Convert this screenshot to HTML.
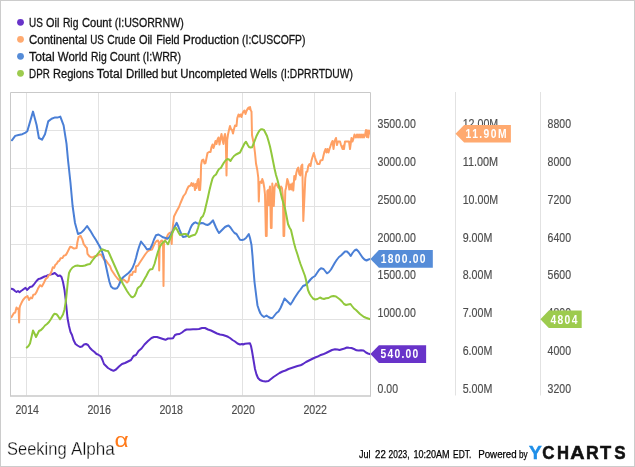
<!DOCTYPE html>
<html lang="en"><head><meta charset="utf-8"><title>YCharts</title>
<style>
html,body{margin:0;padding:0;background:#fff;}
body{width:635px;height:467px;overflow:hidden;}
svg{display:block;font-family:"Liberation Sans", sans-serif;}
.ax{font-size:12px;fill:#4c4c4c;stroke:#4c4c4c;stroke-width:0.15;}
.lg{font-size:12px;fill:#151515;stroke:#151515;stroke-width:0.3;}
.fl{font-size:12px;font-weight:bold;fill:#fff;}
.ln{fill:none;stroke-width:2;stroke-linejoin:round;stroke-linecap:round;}
</style></head><body>
<svg width="635" height="467" viewBox="0 0 635 467">
<rect x="0" y="0" width="635" height="467" fill="#fff"/>
<rect x="0.5" y="0.5" width="634" height="466" fill="none" stroke="#cccccc" stroke-width="1"/>

<circle cx="20.5" cy="22.3" r="3.4" fill="#6833c9"/>
<text class="lg" y="26.5"><tspan x="29.1" textLength="13.8" lengthAdjust="spacingAndGlyphs">US</tspan> <tspan x="46.1" textLength="13.3" lengthAdjust="spacingAndGlyphs">Oil</tspan> <tspan x="62.9" textLength="15.5" lengthAdjust="spacingAndGlyphs">Rig</tspan> <tspan x="81.9" textLength="29.8" lengthAdjust="spacingAndGlyphs">Count</tspan> <tspan x="114.8" textLength="68.9" lengthAdjust="spacingAndGlyphs">(I:USORRNW)</tspan></text>
<circle cx="20.5" cy="39.3" r="3.4" fill="#ffaa70"/>
<text class="lg" y="43.5"><tspan x="29.1" textLength="58.0" lengthAdjust="spacingAndGlyphs">Continental</tspan> <tspan x="90.2" textLength="13.7" lengthAdjust="spacingAndGlyphs">US</tspan> <tspan x="107.2" textLength="28.2" lengthAdjust="spacingAndGlyphs">Crude</tspan> <tspan x="138.9" textLength="13.4" lengthAdjust="spacingAndGlyphs">Oil</tspan> <tspan x="156.2" textLength="23.4" lengthAdjust="spacingAndGlyphs">Field</tspan> <tspan x="183.1" textLength="55.8" lengthAdjust="spacingAndGlyphs">Production</tspan> <tspan x="242.1" textLength="63.3" lengthAdjust="spacingAndGlyphs">(I:CUSCOFP)</tspan></text>
<circle cx="20.5" cy="56.3" r="3.4" fill="#558cd8"/>
<text class="lg" y="60.5"><tspan x="29.1" textLength="25.6" lengthAdjust="spacingAndGlyphs">Total</tspan> <tspan x="57.8" textLength="29.8" lengthAdjust="spacingAndGlyphs">World</tspan> <tspan x="91.1" textLength="15.6" lengthAdjust="spacingAndGlyphs">Rig</tspan> <tspan x="109.8" textLength="29.8" lengthAdjust="spacingAndGlyphs">Count</tspan> <tspan x="142.7" textLength="38.4" lengthAdjust="spacingAndGlyphs">(I:WRR)</tspan></text>
<circle cx="20.5" cy="73.3" r="3.4" fill="#9dcb4e"/>
<text class="lg" y="77.5"><tspan x="29.1" textLength="20.7" lengthAdjust="spacingAndGlyphs">DPR</tspan> <tspan x="53.0" textLength="40.7" lengthAdjust="spacingAndGlyphs">Regions</tspan> <tspan x="96.8" textLength="25.6" lengthAdjust="spacingAndGlyphs">Total</tspan> <tspan x="125.9" textLength="32.6" lengthAdjust="spacingAndGlyphs">Drilled</tspan> <tspan x="161.1" textLength="16.1" lengthAdjust="spacingAndGlyphs">but</tspan> <tspan x="180.2" textLength="66.9" lengthAdjust="spacingAndGlyphs">Uncompleted</tspan> <tspan x="250.0" textLength="27.2" lengthAdjust="spacingAndGlyphs">Wells</tspan> <tspan x="280.7" textLength="72.2" lengthAdjust="spacingAndGlyphs">(I:DPRRTDUW)</tspan></text>
<path d="M10.5,357.5 H370.5 M10.5,319.5 H370.5 M10.5,281.5 H370.5 M10.5,244.5 H370.5 M10.5,206.5 H370.5 M10.5,168.5 H370.5 M10.5,130.5 H370.5 M26.5,92.5 V395.5 M98.5,92.5 V395.5 M170.5,92.5 V395.5 M242.5,92.5 V395.5 M314.5,92.5 V395.5" stroke="#e2e2e2" stroke-width="1" fill="none"/>
<path d="M455.5,92.0 V395.5 M540.5,92.0 V395.5" stroke="#e2e2e2" stroke-width="1" fill="none"/>
<clipPath id="cp"><rect x="10.5" y="92.5" width="360.0" height="303.0"/></clipPath>
<g clip-path="url(#cp)">
<path class="ln" stroke="#5a2cc8" d="M11.5,288.7 L13.5,289.5 L15.0,291.0 L16.5,292.0 L18.0,291.0 L19.5,292.2 L21.0,291.0 L22.5,290.0 L24.5,288.5 L25.5,287.8 L27.0,290.0 L28.5,288.5 L30.0,287.0 L32.0,286.5 L33.5,285.0 L35.0,283.0 L36.5,281.0 L38.5,279.0 L40.5,278.5 L42.5,277.5 L44.5,276.5 L46.5,276.0 L48.5,275.0 L50.5,274.5 L52.5,274.0 L54.8,273.0 L56.5,274.5 L58.0,276.0 L60.0,275.5 L61.5,277.0 L63.0,282.0 L64.5,290.0 L65.7,300.0 L66.7,310.0 L67.5,318.0 L69.0,326.0 L70.5,332.0 L72.0,335.0 L73.5,340.0 L75.5,344.0 L77.5,345.5 L80.0,347.0 L82.0,346.5 L84.0,344.5 L86.0,344.0 L88.0,345.0 L90.0,348.0 L92.0,350.0 L94.5,352.0 L96.5,354.0 L98.0,354.5 L99.5,355.5 L101.0,356.5 L102.5,360.0 L104.0,364.0 L106.0,366.0 L108.0,368.0 L110.5,369.5 L113.5,370.8 L116.0,369.5 L119.0,366.5 L122.0,364.0 L125.0,363.0 L128.0,361.5 L131.0,360.0 L133.5,356.0 L136.0,355.0 L138.5,351.0 L141.5,348.5 L144.5,344.5 L148.0,341.0 L151.5,338.0 L154.0,337.0 L157.0,337.0 L160.0,338.0 L163.0,339.0 L165.5,339.8 L168.0,338.5 L170.5,338.5 L173.0,338.3 L175.0,335.0 L177.0,334.3 L179.5,334.0 L182.0,332.5 L184.5,330.5 L186.5,329.5 L190.0,329.5 L193.0,329.3 L196.0,329.3 L199.0,329.0 L202.0,328.0 L205.0,328.0 L208.0,329.5 L211.0,330.5 L214.0,332.0 L217.0,333.5 L220.0,334.5 L223.0,335.0 L226.0,336.0 L228.0,336.8 L230.0,338.0 L232.5,340.0 L235.0,341.5 L237.5,343.5 L240.0,344.5 L242.0,344.0 L243.0,344.5 L245.0,343.7 L247.5,343.5 L250.0,343.3 L251.0,346.0 L252.0,351.0 L253.0,357.0 L254.0,363.0 L255.0,369.0 L256.5,374.5 L258.0,378.0 L260.0,380.0 L262.5,381.0 L265.5,381.5 L268.5,381.0 L271.0,379.0 L273.5,377.0 L276.5,375.0 L279.5,373.0 L282.5,371.5 L285.5,370.5 L288.5,369.0 L291.5,368.0 L294.5,367.0 L297.5,366.0 L300.5,365.3 L303.0,364.0 L306.0,362.0 L309.0,360.5 L312.0,359.0 L314.0,358.0 L317.0,356.8 L320.0,355.3 L323.0,354.3 L326.0,353.0 L329.0,351.5 L332.0,350.0 L335.0,349.3 L337.5,349.5 L339.5,350.0 L342.0,349.2 L344.5,348.5 L347.0,347.5 L349.0,347.8 L351.5,348.0 L354.0,349.0 L356.5,350.3 L358.5,350.5 L361.0,350.3 L363.5,350.5 L366.0,352.5 L368.0,353.5 L370.4,354.2"/>
<path class="ln" stroke="#ffa064" d="M11.4,317.3 L13.8,313.2 L15.2,312.6 L16.5,307.5 L17.6,308.9 L18.6,308.5 L19.1,322.5 L19.6,308.0 L20.1,305.8 L21.5,302.8 L23.0,300.0 L25.0,297.7 L27.5,296.0 L29.0,300.0 L30.6,297.6 L32.0,298.3 L33.3,294.8 L35.0,294.4 L36.4,292.3 L38.0,288.6 L40.0,285.2 L41.9,286.5 L43.9,282.7 L45.8,278.8 L47.7,277.5 L48.4,275.6 L50.3,274.3 L51.6,271.1 L52.8,267.3 L54.1,267.9 L55.4,264.7 L56.7,263.7 L58.0,261.5 L59.3,260.8 L60.6,258.3 L62.5,258.0 L63.8,255.7 L65.7,255.1 L67.0,253.1 L68.9,249.3 L70.2,246.7 L72.0,247.3 L74.0,248.6 L76.6,248.0 L77.3,242.8 L78.5,237.1 L80.5,235.8 L82.4,239.6 L83.7,244.1 L85.6,246.7 L86.9,248.0 L87.5,253.8 L89.5,256.3 L92.0,257.6 L94.6,256.3 L97.2,255.7 L99.0,254.4 L101.0,254.5 L102.5,257.0 L104.0,259.5 L106.0,260.5 L108.0,263.5 L110.0,266.0 L111.5,270.0 L113.5,273.0 L115.5,276.0 L117.5,278.5 L119.5,280.5 L121.5,280.0 L123.5,279.5 L125.5,281.0 L127.0,282.5 L128.5,281.0 L129.5,276.0 L130.5,274.5 L132.0,275.0 L133.0,272.0 L134.5,271.5 L135.5,272.0 L136.0,266.5 L138.0,265.5 L139.5,263.0 L141.5,260.0 L143.5,257.0 L145.5,254.0 L147.5,251.5 L150.0,250.0 L152.0,249.5 L153.5,246.0 L155.0,243.0 L156.5,241.0 L158.0,240.5 L158.8,243.0 L159.2,270.5 L159.7,243.0 L161.0,241.0 L162.0,240.5 L163.0,243.0 L163.5,286.0 L164.0,243.0 L165.0,240.5 L166.5,238.0 L168.0,234.5 L169.5,233.0 L171.0,232.5 L171.7,244.0 L172.3,232.0 L173.0,225.0 L174.0,216.5 L175.5,213.5 L177.0,210.5 L179.0,207.0 L180.5,203.0 L182.0,199.5 L183.5,196.0 L185.5,193.5 L187.0,189.5 L188.5,186.5 L190.5,185.5 L191.5,183.0 L192.5,186.0 L193.5,183.5 L194.5,187.0 L195.0,190.0 L195.8,184.0 L196.5,188.0 L197.5,181.0 L198.4,179.0 L199.1,190.0 L200.1,190.0 L200.7,180.0 L201.1,165.0 L202.0,160.3 L203.3,159.5 L204.5,163.5 L205.5,163.0 L206.5,158.0 L207.5,153.0 L209.0,152.0 L210.5,152.0 L211.5,147.0 L212.5,144.5 L213.5,148.0 L214.5,145.0 L215.5,141.0 L216.5,144.0 L217.5,139.5 L218.5,137.5 L219.5,144.5 L220.5,138.5 L221.5,134.0 L222.5,140.0 L223.5,144.0 L224.2,137.0 L225.0,134.0 L225.8,140.0 L226.5,175.5 L227.2,140.0 L228.0,134.5 L229.0,130.0 L230.0,126.0 L231.0,129.0 L232.0,130.0 L233.0,133.5 L234.0,129.0 L235.0,125.5 L236.5,126.0 L237.3,118.0 L238.5,114.5 L239.5,116.5 L240.5,114.5 L241.5,117.0 L242.5,113.5 L243.5,111.5 L244.5,110.5 L245.5,114.0 L246.5,111.0 L247.5,109.0 L248.5,107.5 L249.3,109.0 L250.0,107.0 L250.8,110.5 L251.5,111.5 L252.0,135.0 L253.0,140.0 L254.0,145.0 L255.0,153.0 L256.0,163.5 L257.3,170.0 L258.3,178.0 L258.8,201.5 L259.5,183.0 L260.5,181.5 L261.5,183.0 L262.3,179.0 L263.3,182.0 L264.3,188.0 L265.0,194.5 L265.9,236.0 L266.7,236.0 L267.3,191.0 L268.0,190.0 L268.7,205.0 L269.3,191.0 L270.0,186.5 L270.9,228.0 L271.6,228.0 L272.3,183.5 L273.0,192.0 L273.8,206.0 L274.6,187.0 L276.0,183.5 L277.0,185.0 L278.0,187.0 L279.0,188.0 L280.0,189.0 L281.0,186.5 L282.0,188.0 L283.0,198.0 L283.5,236.0 L284.2,236.0 L284.8,210.0 L285.3,190.5 L286.0,188.0 L287.3,179.0 L288.3,182.0 L289.3,189.5 L290.3,184.5 L291.3,189.5 L292.3,183.5 L293.3,190.5 L294.3,176.0 L295.3,179.5 L296.3,173.0 L297.3,169.0 L298.3,167.5 L299.3,174.0 L300.3,175.5 L301.3,166.0 L302.3,164.5 L303.3,221.0 L304.3,200.0 L305.3,178.0 L306.3,172.0 L307.3,171.5 L308.3,166.0 L309.5,164.0 L310.5,166.0 L311.5,160.5 L312.5,157.0 L313.8,153.0 L315.0,157.5 L316.0,160.5 L317.5,164.0 L319.5,164.0 L320.5,160.5 L322.5,160.0 L323.5,155.5 L324.5,151.5 L325.5,149.0 L326.5,152.5 L327.5,149.0 L328.5,152.5 L329.5,149.0 L330.5,146.0 L331.5,143.0 L332.5,141.0 L333.5,149.0 L334.5,141.5 L336.0,138.0 L337.0,145.0 L338.0,141.5 L340.0,141.5 L341.0,145.0 L342.5,149.0 L343.5,145.5 L344.0,149.0 L345.0,141.5 L347.0,141.5 L349.0,141.5 L350.0,149.0 L351.0,141.5 L351.5,138.0 L352.5,141.5 L353.5,138.5 L354.5,134.5 L356.0,137.5 L357.0,134.5 L358.0,137.5 L359.0,134.5 L360.0,137.5 L361.0,134.5 L362.0,137.5 L363.0,134.5 L364.0,137.5 L365.0,135.0 L366.0,130.0 L366.8,137.0 L367.5,130.5 L368.3,137.5 L369.0,130.5 L369.8,133.5"/>
<path class="ln" stroke="#4a7fd6" d="M11.9,140.3 L15.2,135.9 L18.5,135.0 L22.3,134.2 L25.6,132.6 L27.3,131.2 L33.0,111.6 L36.6,125.0 L38.9,138.0 L42.0,139.7 L45.0,134.3 L48.2,121.4 L51.6,118.7 L54.5,117.6 L57.4,117.6 L60.3,116.6 L63.6,125.3 L66.5,143.6 L68.0,160.0 L69.0,169.0 L70.5,183.0 L72.6,206.0 L75.0,223.0 L78.0,234.0 L81.3,232.6 L84.0,230.0 L87.1,226.0 L90.2,230.6 L93.4,236.0 L96.0,240.0 L98.0,243.5 L100.0,247.0 L102.0,251.5 L103.5,256.0 L105.0,261.5 L106.5,268.5 L108.0,275.5 L109.5,282.0 L111.0,286.5 L113.0,288.2 L115.0,288.7 L117.0,288.3 L118.5,286.0 L120.0,282.5 L121.5,279.0 L123.5,277.0 L126.0,275.0 L128.5,273.0 L130.5,271.0 L132.5,268.0 L134.5,263.0 L136.0,258.0 L137.5,252.0 L139.0,247.0 L141.0,241.5 L143.0,244.0 L145.0,246.5 L147.0,249.5 L149.0,249.0 L150.0,249.0 L152.0,245.0 L154.0,239.5 L156.0,235.3 L158.5,234.5 L161.0,236.0 L163.0,237.3 L165.5,238.0 L167.5,238.8 L169.5,237.0 L171.5,233.5 L173.5,229.5 L175.0,226.0 L176.7,222.8 L178.5,227.0 L180.0,231.0 L181.5,234.5 L183.0,237.0 L185.5,236.5 L187.5,235.5 L189.0,232.0 L190.5,228.0 L192.0,225.0 L194.0,223.0 L195.5,222.3 L197.5,223.5 L199.5,223.8 L201.5,223.0 L203.5,223.3 L205.5,224.5 L207.5,225.0 L209.5,224.0 L211.5,222.0 L213.0,220.3 L214.5,224.0 L216.0,227.5 L217.5,230.5 L219.0,233.0 L221.0,231.0 L223.0,229.0 L225.0,227.0 L227.0,226.0 L228.5,225.5 L230.5,227.5 L232.5,230.5 L234.5,233.0 L236.5,234.0 L238.0,236.5 L240.0,239.8 L242.0,240.0 L244.0,239.5 L246.0,238.0 L248.8,234.0 L250.0,238.0 L251.5,245.0 L252.5,256.0 L253.5,270.0 L254.5,282.0 L255.5,290.0 L256.5,298.0 L257.5,305.5 L259.0,310.0 L260.5,313.5 L262.0,315.5 L264.0,317.0 L266.5,315.5 L268.5,317.0 L270.5,318.0 L272.5,318.0 L274.5,315.5 L276.5,313.0 L278.5,311.5 L280.5,308.0 L282.5,303.5 L284.5,298.5 L286.5,300.5 L288.5,302.5 L290.5,304.5 L292.5,301.5 L294.5,298.0 L296.5,295.0 L298.5,292.0 L300.5,289.5 L303.0,286.0 L305.5,285.0 L308.0,282.5 L310.5,279.5 L312.5,277.5 L315.0,276.0 L317.0,273.0 L319.0,270.0 L321.0,268.3 L323.5,269.0 L325.5,271.5 L327.0,273.3 L329.0,272.0 L331.0,269.5 L333.0,266.0 L335.0,262.5 L337.0,259.5 L339.0,257.0 L341.0,255.5 L343.0,253.5 L345.0,251.5 L347.0,251.5 L349.0,253.5 L350.7,256.0 L352.5,253.0 L354.5,250.5 L356.5,249.5 L358.5,251.5 L360.5,254.5 L362.5,257.5 L364.5,259.5 L366.5,260.5 L368.5,259.5 L370.4,258.9"/>
<path class="ln" stroke="#91c83c" d="M26.8,347.6 L28.5,346.0 L30.0,343.5 L31.5,337.0 L33.0,330.5 L34.5,333.5 L36.0,337.0 L37.5,334.0 L39.0,331.0 L41.0,330.0 L43.0,328.0 L45.0,325.5 L47.0,324.0 L49.0,322.0 L51.0,319.0 L53.0,315.5 L54.5,313.7 L56.5,314.2 L58.0,316.0 L60.0,319.3 L61.5,317.0 L63.0,314.5 L64.5,309.5 L66.0,300.0 L67.0,290.0 L68.0,280.0 L69.0,273.0 L70.5,270.0 L72.5,267.5 L75.0,266.0 L77.5,265.5 L80.0,266.0 L82.5,266.0 L85.0,265.5 L87.5,264.5 L90.0,264.0 L92.0,261.0 L94.0,258.5 L96.0,256.0 L98.0,253.5 L100.0,251.0 L102.0,249.3 L104.0,250.0 L106.0,250.8 L108.0,251.0 L109.5,254.0 L111.0,257.5 L113.0,262.0 L115.0,266.5 L117.0,271.0 L119.0,275.5 L121.0,280.0 L123.0,284.0 L125.0,287.5 L127.0,291.0 L129.0,294.0 L131.0,296.5 L132.5,297.3 L134.5,296.0 L136.0,293.0 L137.5,288.5 L139.0,287.0 L140.5,286.0 L142.5,282.5 L144.5,279.0 L146.5,275.5 L148.5,271.5 L150.0,269.5 L152.5,269.0 L154.5,264.0 L156.0,258.5 L158.0,251.5 L160.0,246.5 L162.0,243.5 L164.0,241.5 L165.5,241.0 L167.0,243.0 L168.0,244.3 L169.5,240.5 L171.0,236.5 L172.5,232.5 L174.0,229.5 L175.7,227.5 L177.0,229.5 L178.5,232.5 L180.0,235.0 L182.0,234.5 L184.0,234.0 L186.0,234.0 L187.5,235.5 L189.0,237.0 L191.0,236.0 L193.0,235.3 L195.0,234.7 L196.5,232.5 L198.0,228.0 L199.5,222.5 L201.0,218.0 L203.0,216.0 L204.5,212.0 L206.0,205.5 L206.5,203.5 L208.0,197.0 L209.5,190.0 L211.0,184.0 L212.5,178.5 L214.0,176.0 L216.0,174.5 L217.5,171.5 L219.0,169.0 L221.0,167.8 L222.5,165.0 L224.0,162.5 L225.5,160.5 L227.5,159.0 L229.0,159.5 L230.5,161.0 L232.0,158.5 L234.0,156.0 L236.0,154.5 L238.0,153.5 L240.0,152.5 L241.5,149.5 L243.0,146.5 L244.5,143.5 L246.0,141.7 L247.5,144.5 L249.0,147.0 L250.5,147.5 L252.0,147.3 L253.5,144.0 L255.0,140.0 L256.5,136.0 L258.0,133.0 L259.5,130.5 L261.0,129.3 L262.5,129.3 L264.0,130.0 L265.5,133.0 L267.0,136.0 L268.5,141.0 L270.0,146.5 L271.5,153.5 L273.0,161.0 L274.5,168.5 L276.0,175.0 L277.5,180.0 L279.0,186.0 L280.5,192.0 L282.0,198.5 L283.5,203.5 L285.0,208.5 L286.5,216.0 L288.0,224.0 L289.5,227.5 L291.0,230.0 L292.5,236.5 L294.0,243.0 L295.5,248.5 L296.0,250.0 L297.5,254.5 L299.0,259.5 L300.5,264.0 L302.0,268.0 L303.5,272.0 L305.0,276.0 L306.0,280.0 L307.0,285.0 L308.0,290.0 L309.5,293.5 L311.0,296.0 L313.0,298.5 L315.0,299.5 L317.5,299.0 L320.0,297.5 L322.0,298.5 L324.0,299.0 L326.0,298.3 L328.5,298.0 L331.0,296.5 L333.5,296.0 L336.0,296.5 L338.0,298.0 L340.0,299.5 L342.0,301.5 L344.0,304.0 L346.0,305.0 L348.0,304.5 L350.5,304.0 L352.0,306.0 L354.0,308.5 L356.0,310.0 L358.0,312.0 L360.0,314.0 L362.0,315.5 L364.0,317.0 L366.0,317.8 L368.0,318.5 L370.4,319.3"/>
</g>
<path d="M10.5,396.1 V92.5 H370.5 V396.1" fill="none" stroke="#c9c9c9" stroke-width="1"/>
<path d="M10.0,395.9 H371.0" stroke="#c9c9c9" stroke-width="1.5" fill="none"/>
<text class="ax" x="377.6" y="392.9" textLength="20.4" lengthAdjust="spacingAndGlyphs">0.00</text>
<text class="ax" x="462.7" y="392.9" textLength="29.6" lengthAdjust="spacingAndGlyphs">5.00M</text>
<text class="ax" x="547.6" y="392.9" textLength="23.4" lengthAdjust="spacingAndGlyphs">3200</text>
<text class="ax" x="462.7" y="355.0" textLength="29.6" lengthAdjust="spacingAndGlyphs">6.00M</text>
<text class="ax" x="547.6" y="355.0" textLength="23.4" lengthAdjust="spacingAndGlyphs">4000</text>
<text class="ax" x="377.6" y="317.2" textLength="38.2" lengthAdjust="spacingAndGlyphs">1000.00</text>
<text class="ax" x="462.7" y="317.2" textLength="29.6" lengthAdjust="spacingAndGlyphs">7.00M</text>
<text class="ax" x="547.6" y="317.2" textLength="23.4" lengthAdjust="spacingAndGlyphs">4800</text>
<text class="ax" x="377.6" y="279.3" textLength="38.2" lengthAdjust="spacingAndGlyphs">1500.00</text>
<text class="ax" x="462.7" y="279.3" textLength="29.6" lengthAdjust="spacingAndGlyphs">8.00M</text>
<text class="ax" x="547.6" y="279.3" textLength="23.4" lengthAdjust="spacingAndGlyphs">5600</text>
<text class="ax" x="377.6" y="241.5" textLength="38.2" lengthAdjust="spacingAndGlyphs">2000.00</text>
<text class="ax" x="462.7" y="241.5" textLength="29.6" lengthAdjust="spacingAndGlyphs">9.00M</text>
<text class="ax" x="547.6" y="241.5" textLength="23.4" lengthAdjust="spacingAndGlyphs">6400</text>
<text class="ax" x="377.6" y="203.6" textLength="38.2" lengthAdjust="spacingAndGlyphs">2500.00</text>
<text class="ax" x="462.7" y="203.6" textLength="35.5" lengthAdjust="spacingAndGlyphs">10.00M</text>
<text class="ax" x="547.6" y="203.6" textLength="23.4" lengthAdjust="spacingAndGlyphs">7200</text>
<text class="ax" x="377.6" y="165.7" textLength="38.2" lengthAdjust="spacingAndGlyphs">3000.00</text>
<text class="ax" x="462.7" y="165.7" textLength="35.5" lengthAdjust="spacingAndGlyphs">11.00M</text>
<text class="ax" x="547.6" y="165.7" textLength="23.4" lengthAdjust="spacingAndGlyphs">8000</text>
<text class="ax" x="377.6" y="127.9" textLength="38.2" lengthAdjust="spacingAndGlyphs">3500.00</text>
<text class="ax" x="462.7" y="127.9" textLength="35.5" lengthAdjust="spacingAndGlyphs">12.00M</text>
<text class="ax" x="547.6" y="127.9" textLength="23.4" lengthAdjust="spacingAndGlyphs">8800</text>
<text class="ax" x="15.4" y="413.8" textLength="23.6" lengthAdjust="spacingAndGlyphs">2014</text>
<text class="ax" x="87.4" y="413.8" textLength="23.6" lengthAdjust="spacingAndGlyphs">2016</text>
<text class="ax" x="159.4" y="413.8" textLength="23.6" lengthAdjust="spacingAndGlyphs">2018</text>
<text class="ax" x="231.4" y="413.8" textLength="23.6" lengthAdjust="spacingAndGlyphs">2020</text>
<text class="ax" x="303.4" y="413.8" textLength="23.6" lengthAdjust="spacingAndGlyphs">2022</text>
<path d="M455.5,133.8 L464.1,125.00000000000001 H510.9 V142.60000000000002 H464.1 Z" fill="#ffaa70"/>
<text class="fl" transform="translate(465.6,138.0) scale(0.86,1)" x="0" y="0" textLength="47.6" lengthAdjust="spacing">11.90M</text>
<path d="M370.4,258.9 L378.9,250.09999999999997 H432.8 V267.7 H378.9 Z" fill="#558cd8"/>
<text class="fl" transform="translate(380.8,263.1) scale(0.86,1)" x="0" y="0" textLength="52.0" lengthAdjust="spacing">1800.00</text>
<path d="M370.4,354.1 L378.9,345.3 H426.1 V362.90000000000003 H378.9 Z" fill="#6833c9"/>
<text class="fl" transform="translate(380.6,358.3) scale(0.86,1)" x="0" y="0" textLength="43.7" lengthAdjust="spacing">540.00</text>
<path d="M540.4,319.3 L548.8,310.5 H581.7 V328.1 H548.8 Z" fill="#9dcb4e"/>
<text class="fl" transform="translate(550.4,323.5) scale(0.86,1)" x="0" y="0" textLength="31.5" lengthAdjust="spacing">4804</text>
<text y="454.9" font-size="18.6" fill="#111" stroke="#fff" stroke-width="0.3"><tspan x="7.0" textLength="59.6" lengthAdjust="spacingAndGlyphs">Seeking</tspan> <tspan x="71.1" textLength="43.7" lengthAdjust="spacingAndGlyphs">Alpha</tspan></text>
<text x="114.4" y="447.2" font-size="19.4" fill="#ff7a1a" textLength="14.2" lengthAdjust="spacingAndGlyphs">α</text>
<text y="457.5" font-size="10.5" fill="#000" stroke="#000" stroke-width="0.25"><tspan x="359.0" textLength="11.5" lengthAdjust="spacingAndGlyphs">Jul</tspan> <tspan x="375.1" textLength="10.7" lengthAdjust="spacingAndGlyphs">22</tspan> <tspan x="388.6" textLength="20.9" lengthAdjust="spacingAndGlyphs">2023,</tspan> <tspan x="413.4" textLength="36.2" lengthAdjust="spacingAndGlyphs">10:20AM</tspan> <tspan x="453.1" textLength="18.3" lengthAdjust="spacingAndGlyphs">EDT.</tspan></text>
<text y="457.5" font-size="10.5" fill="#000" stroke="#000" stroke-width="0.25"><tspan x="478.2" textLength="38.5" lengthAdjust="spacingAndGlyphs">Powered</tspan> <tspan x="519.0" textLength="8.6" lengthAdjust="spacingAndGlyphs">by</tspan></text>
<text transform="translate(529.03,459.3) scale(1.078,1)" font-size="17.7" font-weight="bold" fill="#1f8fe8" stroke="#1f8fe8" stroke-width="0.5">Y</text>
<text transform="translate(542.25,459.3) scale(0.959,1)" font-size="17.7" font-weight="bold" fill="#111" stroke="#111" stroke-width="0.5">C</text>
<text transform="translate(556.93,459.3) scale(0.942,1)" font-size="17.7" font-weight="bold" fill="#111" stroke="#111" stroke-width="0.5">H</text>
<text transform="translate(570.15,459.3) scale(1.120,1)" font-size="17.7" font-weight="bold" fill="#111" stroke="#111" stroke-width="0.5">A</text>
<text transform="translate(586.07,459.3) scale(0.996,1)" font-size="17.7" font-weight="bold" fill="#111" stroke="#111" stroke-width="0.5">R</text>
<text transform="translate(600.05,459.3) scale(1.036,1)" font-size="17.7" font-weight="bold" fill="#111" stroke="#111" stroke-width="0.5">T</text>
<text transform="translate(614.26,459.3) scale(0.962,1)" font-size="17.7" font-weight="bold" fill="#111" stroke="#111" stroke-width="0.5">S</text>
</svg></body></html>
